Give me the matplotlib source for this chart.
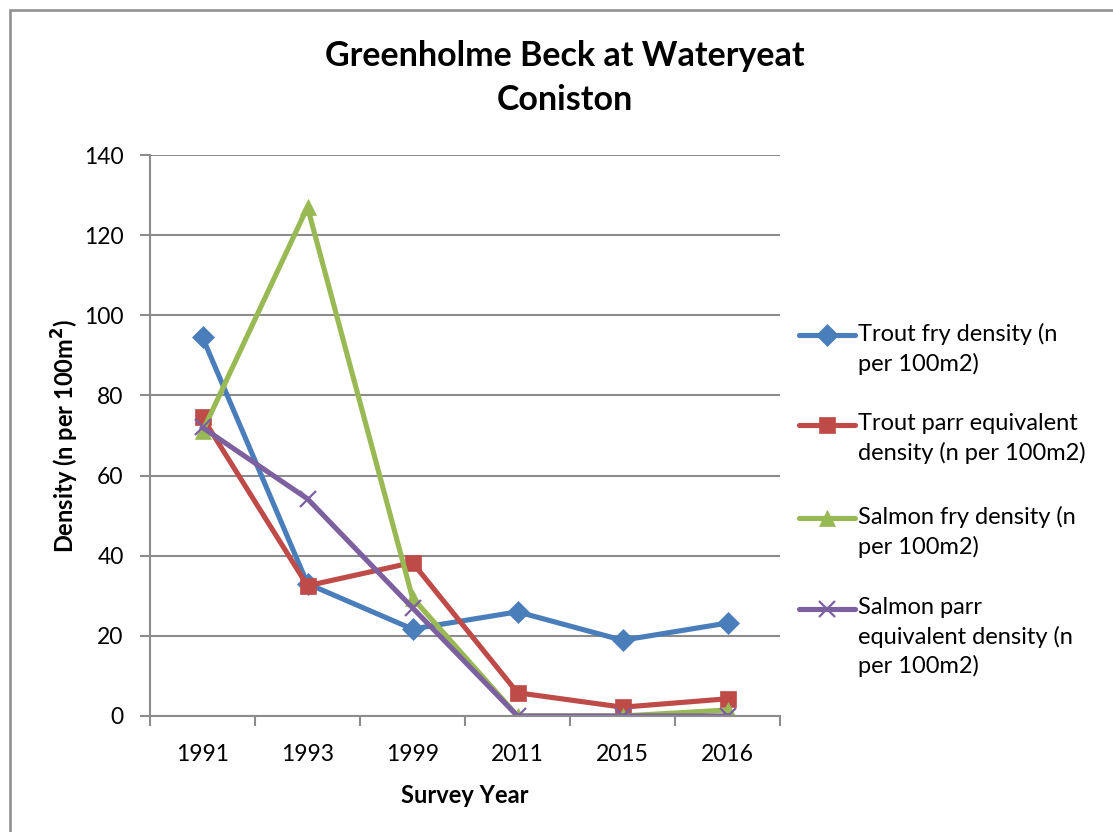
import matplotlib.pyplot as plt
from matplotlib.lines import Line2D
from matplotlib.patches import Rectangle

plt.rcParams['font.family'] = ['Lato', 'DejaVu Sans']

years = ['1991', '1993', '1999', '2011', '2015', '2016']
trout_fry = [94.5, 33.0, 21.7, 26.0, 18.9, 23.2]
trout_parr = [74.5, 32.5, 38.3, 5.8, 2.2, 4.3]
salmon_fry = [71.0, 127.0, 29.5, 0.0, 0.0, 1.5]
salmon_parr = [72.0, 54.2, 27.0, 0.0, 0.0, 0.0]

series = [
    ('Trout fry density (n\nper 100m2)', trout_fry, '#4A7EBB', 'D', 11),
    ('Trout parr equivalent\ndensity (n per 100m2)', trout_parr, '#BE4B48', 's', 12),
    ('Salmon fry density (n\nper 100m2)', salmon_fry, '#98B954', '^', 12),
    ('Salmon parr\nequivalent density (n\nper 100m2)', salmon_parr, '#7D60A0', 'x', 12),
]

W, H = 1113, 832
fig = plt.figure(figsize=(W / 100, H / 100), dpi=100)
ax = fig.add_axes([150 / W, 1 - 716 / H, 630 / W, 561 / H])

# chart area border (runs off the right and bottom edges)
fig.patches.append(Rectangle((10 / W, -0.05), 1.2, 1 - 10 / H + 0.05,
                             transform=fig.transFigure, fill=False,
                             edgecolor='#8c8c8c', linewidth=1.8))

x = list(range(len(years)))
for label, vals, col, mk, ms in series:
    ax.plot(x, vals, color=col, linewidth=3.7, marker=mk, markersize=ms,
            markeredgewidth=1.6 if mk == 'x' else 0.5, markeredgecolor=col)

ax.set_xlim(-0.5, 5.5)
ax.set_ylim(0, 140)
ax.set_yticks(range(0, 141, 20))
ax.set_xticks(x)
ax.set_xticklabels(years)
ax.set_xticks([i - 0.5 for i in range(7)], minor=True)
ax.tick_params(axis='x', which='major', length=0, labelsize=16.5, pad=20)
ax.tick_params(axis='x', which='minor', length=7, width=1.5, color='#8c8c8c')
ax.tick_params(axis='y', length=7, width=1.5, color='#8c8c8c', labelsize=16.5, pad=12)
ax.grid(axis='y', color='#8c8c8c', linewidth=1.5)
ax.set_axisbelow(True)
for s in ['top', 'right']:
    ax.spines[s].set_visible(False)
for s in ['left', 'bottom']:
    ax.spines[s].set_color('#8c8c8c')
    ax.spines[s].set_linewidth(1.5)

ax.set_xlabel('Survey Year', fontsize=17, fontweight='bold', labelpad=14)
ax.set_ylabel('Density (n per 100m$^\\mathbf{2}$)', fontsize=17, fontweight='bold', labelpad=2)

fig.text(565 / W, 1 - 78 / H, 'Greenholme Beck at Wateryeat\nConiston',
         ha='center', va='center', fontsize=24.5, fontweight='bold', linespacing=1.5)

# legend: handle lines up with the first text line of each entry
entry_y = [335, 425, 518, 609]
for (label, vals, col, mk, ms), yy in zip(series, entry_y):
    fy = 1 - yy / H
    fig.add_artist(Line2D([799 / W, 855 / W], [fy, fy], transform=fig.transFigure,
                          color=col, linewidth=3.7, solid_capstyle='round'))
    fig.add_artist(Line2D([827 / W], [fy], transform=fig.transFigure, color=col,
                          marker=mk, markersize=ms, markeredgecolor=col,
                          markeredgewidth=1.6 if mk == 'x' else 0.5))
    fig.text(858 / W, fy + 12 / H, label, ha='left', va='top', fontsize=17,
             linespacing=1.42)

fig.savefig('out.png', dpi=100)
